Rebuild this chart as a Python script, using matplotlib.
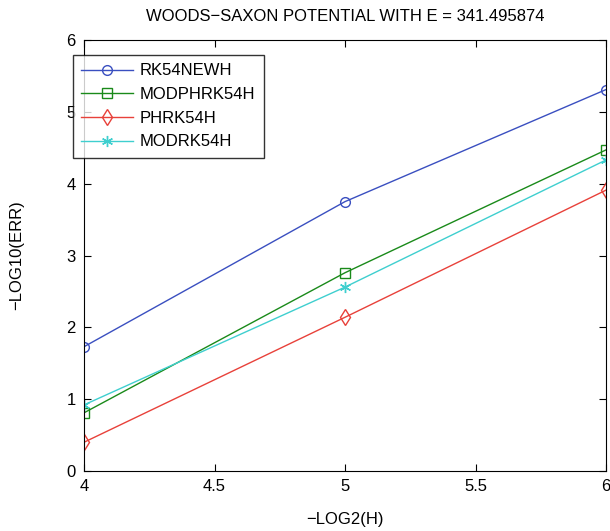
import matplotlib
matplotlib.use("Agg")
import matplotlib.pyplot as plt

plt.rcParams['font.family'] = ['Liberation Sans', 'DejaVu Sans']

x = [4, 5, 6]
labels = ["RK54NEWH", "MODPHRK54H", "PHRK54H", "MODRK54H"]
rk54newh = [1.73, 3.75, 5.31]
modphrk54h = [0.81, 2.76, 4.47]
phrk54h = [0.40, 2.14, 3.91]
modrk54h = [0.92, 2.56, 4.33]
series = [rk54newh, modphrk54h, phrk54h, modrk54h]
colors = ["#3a4fc0", "#1a8a1a", "#e8413a", "#3fcfcf"]
markers = ["o", "s", "d", (6, 2, 0)]
sizes = [7, 7, 8, 8]

fig = plt.figure(figsize=(6.10, 5.31), dpi=100)
ax = fig.add_axes([84/610, 60/531, 522/610, 431/531])
for ys, lab, c, m, ms in zip(series, labels, colors, markers, sizes):
    ax.plot(x, ys, color=c, marker=m, markerfacecolor="none", markeredgecolor=c,
            markersize=ms, markeredgewidth=1.0, linewidth=1.0, label=lab)
ax.set_xlim(4, 6)
ax.set_ylim(0, 6)
ax.set_xticks([4, 4.5, 5, 5.5, 6])
ax.set_xticklabels(["4", "4.5", "5", "5.5", "6"])
ax.set_yticks([0, 1, 2, 3, 4, 5, 6])
ax.tick_params(direction="in", labelsize=12, length=5, top=True, right=True, pad=6)
ax.set_xlabel("\u2212LOG2(H)", fontsize=12, labelpad=13)
ax.set_ylabel("\u2212LOG10(ERR)", fontsize=12, labelpad=30)
ax.set_title("WOODS\u2212SAXON POTENTIAL WITH E = 341.495874", fontsize=12, pad=14)
leg = ax.legend(loc="upper left", bbox_to_anchor=(-0.021, 0.965), fontsize=12,
                frameon=True, fancybox=False, edgecolor="black", borderpad=0.5,
                handlelength=3.1, handletextpad=0.4, labelspacing=0.52, borderaxespad=0)
leg.get_frame().set_linewidth(1.0)
fig.savefig("out.png", dpi=100)
